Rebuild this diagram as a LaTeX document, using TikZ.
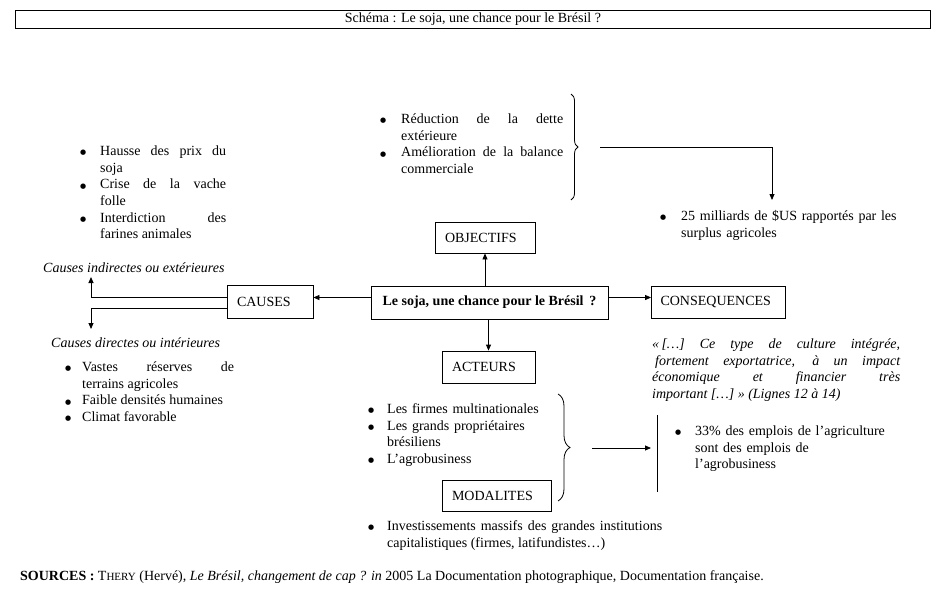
\documentclass[tikz,border=0pt]{standalone}
\usepackage{fontspec}
\setmainfont{Liberation Serif}
\newfontfamily\bulfont{DejaVu Sans}
\usetikzlibrary{arrows.meta,decorations.pathreplacing}
\hbadness=10000
\newcommand\bitem[2][20pt]{\par\hangindent=#1\hangafter=1\noindent\strut\makebox[#1][l]{\hspace*{1pt}\raisebox{0.8pt}{\bulfont\fontsize{7}{7}\selectfont ●}}#2\par}
\tikzset{
  f/.style={font=\fontsize{14}{16.7}\selectfont},
  box/.style={f,draw,line width=0.8pt,inner xsep=10pt,inner ysep=0pt,align=left},
  lst/.style={f,inner sep=0pt,anchor=north west},
  arr/.style={line width=0.8pt,-{Triangle[length=6pt,width=5pt]}},
  ln/.style={line width=0.8pt},
}
\begin{document}
\begin{tikzpicture}[x=1pt,y=-1pt]
\useasboundingbox (0,0) rectangle (938,597);
% title
\node[f,draw,line width=0.8pt,anchor=north west,minimum width=915pt,minimum height=18pt,inner sep=0pt] (title) at (15,10) {Schéma : Le soja, une chance pour le Brésil ?};
% boxes
\node[f,draw,line width=0.8pt,minimum width=237pt,minimum height=33pt,inner sep=0pt,font=\fontsize{14}{16.7}\selectfont\bfseries] (c) at (489.5,302.5) {Le soja, une chance pour le Brésil\, ?};
\node[box,text width=80pt,minimum height=31pt] (ob) at (485,237.5) {OBJECTIFS};
\node[box,text width=66pt,minimum height=33pt] (ca) at (270,301.5) {CAUSES};
\node[box,text width=116pt,inner xsep=9pt,minimum height=32pt] (co) at (718.5,302) {CONSEQUENCES};
\node[box,text width=73pt,minimum height=32pt] (ac) at (488.5,367) {ACTEURS};
\node[box,text width=89pt,minimum height=31pt] (mo) at (496.5,495.5) {MODALITES};
% arrows from centre
\draw[arr] (c.north -| ob) -- (ob.south);
\draw[arr] (c.south -| ac) -- (ac.north);
\draw[arr] ([yshift=5pt]c.west) -- ([yshift=5pt]c.west -| ca.east);
\draw[arr] ([yshift=5pt]c.east) -- ([yshift=5pt]c.east -| co.west);
% causes branches
\coordinate (ci) at (91,277);
\coordinate (cd) at (91,329);
\draw[arr] ([yshift=4.5pt]ca.west) -| (ci);
\draw[arr] ([yshift=-6.5pt]ca.west) -| (cd);
\node[f,inner sep=0pt,anchor=north west,font=\fontsize{14}{16.7}\selectfont\itshape] (cit) at (43,260.5) {\strut Causes indirectes ou extérieures};
\node[f,inner sep=0pt,anchor=north west,font=\fontsize{14}{16.7}\selectfont\itshape] (cdt) at (51,335.5) {\strut Causes directes ou intérieures};
% lists
\node[lst,text width=184pt,align=justify] (objL) at (379,106.5) {%
\bitem[22pt]{Réduction de la dette\linebreak extérieure}
\bitem[22pt]{Amélioration de la balance\linebreak commerciale}};
\node[lst,text width=147pt,align=justify] (causeL) at (79,138.5) {%
\bitem[21pt]{Hausse des prix du\linebreak soja}
\bitem[21pt]{Crise de la vache\linebreak folle}
\bitem[21pt]{Interdiction des\linebreak farines animales}};
\node[lst,text width=250pt,align=left] (usL) at (659,203.5) {%
\bitem[22pt]{25 milliards de \$US rapportés par les\newline surplus agricoles}};
\node[lst,text width=170pt,align=justify] (dirL) at (64,354.5) {%
\bitem[18pt]{Vastes réserves de\linebreak terrains agricoles}
\bitem[18pt]{Faible densités humaines}
\bitem[18pt]{Climat favorable}};
\node[lst,text width=248pt,align=justify,font=\fontsize{14}{16.7}\selectfont\itshape] (quote) at (652,336.5) {\strut«\,[…] Ce type de culture intégrée,\linebreak\hspace*{3pt}fortement exportatrice, à un impact\linebreak économique et financier très\linebreak important […] » (Lignes 12 à 14)};
\node[lst,text width=190pt,align=left] (actL) at (367,396.5) {%
\bitem[20pt]{Les firmes multinationales}
\bitem[20pt]{Les grands propriétaires\newline brésiliens}
\bitem[20pt]{L’agrobusiness}};
\node[lst,text width=295pt,align=justify] (invL) at (367,513.5) {%
\bitem[20pt]{Investissements massifs des grandes institutions\linebreak capitalistiques (firmes, latifundistes…)}};
\node[lst,text width=230pt,align=left] (pctL) at (674,418.5) {%
\bitem[21pt]{33\% des emplois de l’agriculture\newline sont des emplois de\newline l’agrobusiness}};
% braces and links
\coordinate (b1a) at (571,94);
\coordinate (b1b) at (571,200);
\draw[ln,decorate,decoration={brace,amplitude=7pt}] (b1a) -- (b1b);
\coordinate (b1s) at (600,147);
\coordinate (b1e) at (772,200);
\draw[arr] (b1s) -| (b1e);
\coordinate (b2a) at (558,394);
\coordinate (b2b) at (558,501);
\draw[ln,decorate,decoration={brace,amplitude=12pt}] (b2a) -- (b2b);
\coordinate (b2s) at (592,448);
\coordinate (b2e) at (651,448);
\draw[arr] (b2s) -- (b2e);
\coordinate (v1) at (657,415);
\coordinate (v2) at (657,492);
\draw[ln] (v1) -- (v2);
% sources
\node[lst] (src) at (20,568.5) {\strut\textbf{SOURCES :} T{\fontsize{11}{13}\selectfont HERY} (Hervé), \textit{Le Brésil, changement de cap ? in} 2005 La Documentation photographique, Documentation française.};
\end{tikzpicture}
\end{document}
